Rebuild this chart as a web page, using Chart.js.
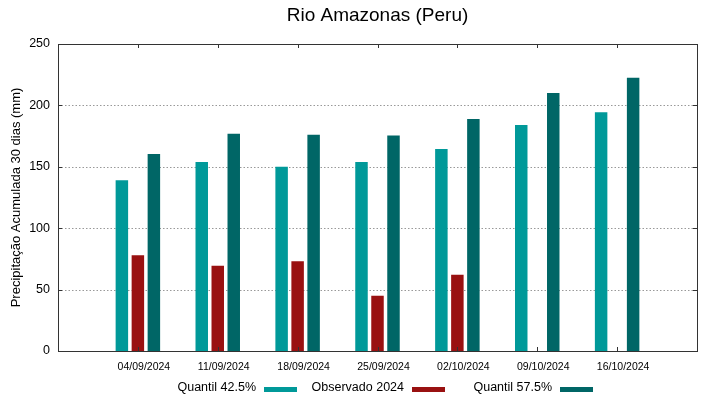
<!DOCTYPE html>
<html>
<head>
<meta charset="utf-8">
<script src="https://cdn.jsdelivr.net/npm/chart.js"></script>
<style>
  html, body { margin: 0; padding: 0; background: #fff; }
  canvas { display: block; }
</style>
</head>
<body>
<canvas id="myChart" width="719" height="399"></canvas>
<script>
  const titleText = 'Rio Amazonas (Peru)';
  const yTitle = 'Precipitação Acumulada 30 dias (mm)';
  const dates = ['04/09/2024', '11/09/2024', '18/09/2024', '25/09/2024', '02/10/2024', '09/10/2024', '16/10/2024'];
  const quantil425 = [139, 154, 150, 154, 164.5, 184, 194.5];
  const observado = [78, 69.5, 73, 45, 62, null, null];
  const quantil575 = [160.5, 177, 176, 175.5, 189, 210, 222.5];
  const yTicks = [0, 50, 100, 150, 200, 250];
  const seriesNames = ['Quantil 42.5%', 'Observado 2024', 'Quantil 57.5%'];
  const seriesColors = ['#009999', '#991111', '#006666'];

  // one empty slot each side, like the original xrange
  const labels = [''].concat(dates, ['']);
  const pad = (arr) => [null].concat(arr, [null]);

  Chart.defaults.font.family = '"Liberation Sans", Arial, sans-serif';
  Chart.defaults.color = '#000';

  const frame = {
    id: 'frame',
    beforeDatasetsDraw(chart) {
      const { ctx, chartArea: a, scales: { y } } = chart;
      ctx.save();
      ctx.strokeStyle = '#999';
      ctx.lineWidth = 1;
      ctx.setLineDash([1.5, 2]);
      ctx.beginPath();
      yTicks.slice(1, -1).forEach(v => {
        const py = Math.round(y.getPixelForValue(v)) + 0.5;
        ctx.moveTo(a.left, py);
        ctx.lineTo(a.right, py);
      });
      ctx.stroke();
      ctx.restore();
    },
    afterDraw(chart) {
      const { ctx, chartArea: a, scales: { x, y } } = chart;
      ctx.save();
      ctx.strokeStyle = '#333';
      ctx.lineWidth = 1;
      ctx.beginPath();
      yTicks.forEach(v => {
        const py = Math.round(y.getPixelForValue(v)) + 0.5;
        ctx.moveTo(a.left, py); ctx.lineTo(a.left + 4, py);
        ctx.moveTo(a.right, py); ctx.lineTo(a.right - 4, py);
      });
      dates.forEach((d, i) => {
        const px = Math.round(x.getPixelForValue(i + 1)) + 0.5;
        ctx.moveTo(px, a.top); ctx.lineTo(px, a.top + 4);
        ctx.moveTo(px, a.bottom); ctx.lineTo(px, a.bottom - 4);
      });
      ctx.stroke();
      ctx.strokeRect(Math.round(a.left) + 0.5, Math.round(a.top) + 0.5,
        Math.round(a.right - a.left), Math.round(a.bottom - a.top));

      // title over the plot area
      ctx.fillStyle = '#000';
      ctx.font = '19px "Liberation Sans"';
      ctx.textAlign = 'center';
      ctx.textBaseline = 'middle';
      ctx.fillText(titleText, (a.left + a.right) / 2, 16);

      // gnuplot style key: text then sample
      ctx.font = '12.5px "Liberation Sans"';
      ctx.textAlign = 'right';
      chart.data.datasets.forEach((ds, i) => {
        const sr = 297 + 148 * i;
        ctx.fillStyle = '#000';
        ctx.fillText(ds.label, sr - 33 - 8, 388);
        ctx.fillStyle = ds.backgroundColor;
        ctx.fillRect(sr - 33, 387, 33, 5);
      });
      ctx.restore();
    }
  };

  new Chart(document.getElementById('myChart'), {
    type: 'bar',
    data: {
      labels: labels,
      datasets: [
        { label: seriesNames[0], data: pad(quantil425), backgroundColor: seriesColors[0] },
        { label: seriesNames[1], data: pad(observado), backgroundColor: seriesColors[1] },
        { label: seriesNames[2], data: pad(quantil575), backgroundColor: seriesColors[2] }
      ]
    },
    options: {
      responsive: false,
      animation: false,
      devicePixelRatio: 1,
      layout: { padding: { top: 44, right: 22, left: 0, bottom: 0 } },
      datasets: { bar: { categoryPercentage: 0.601, barPercentage: 0.78 } },
      plugins: { legend: { display: false }, tooltip: { enabled: false } },
      scales: {
        x: {
          offset: false,
          grid: { display: false, drawTicks: false },
          border: { display: false },
          ticks: { font: { size: 10.5 }, padding: 10, labelOffset: 6, maxRotation: 0, autoSkip: false },
          afterFit: (s) => { s.height = 48; }
        },
        y: {
          min: 0,
          max: 250,
          afterBuildTicks: (s) => { s.ticks = yTicks.map(v => ({ value: v })); },
          grid: { display: false, drawTicks: false },
          border: { display: false },
          ticks: { font: { size: 12.5 }, padding: 8 },
          title: { display: true, text: yTitle, font: { size: 13 }, padding: { top: 9, bottom: 0 } },
          afterFit: (s) => { s.width = 58; }
        }
      }
    },
    plugins: [frame]
  });
</script>
</body>
</html>
